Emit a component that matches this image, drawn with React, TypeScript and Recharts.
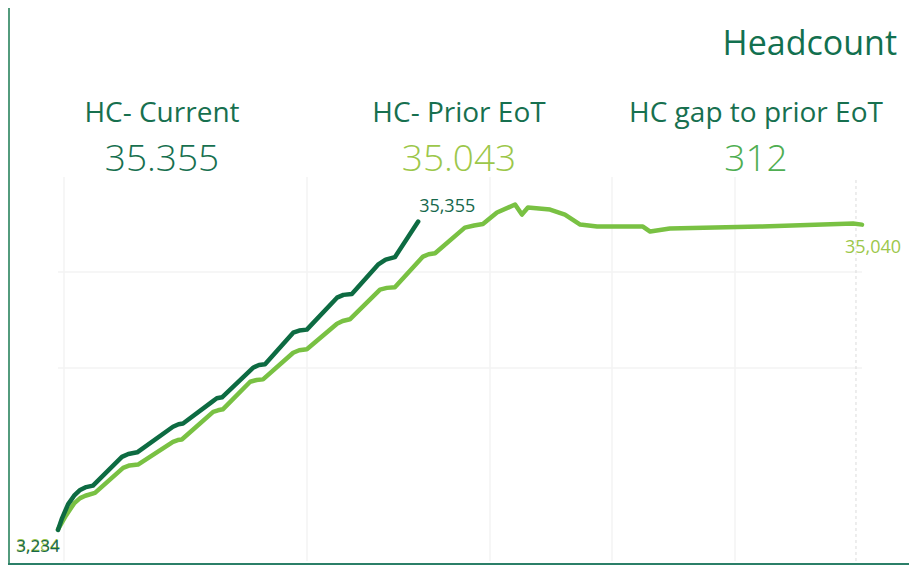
import { LineChart, Line, XAxis, YAxis, CartesianGrid, ReferenceLine } from 'recharts'

// x = period index across the year, y = headcount
const currentX = [0, 1, 2.5, 4, 5.5, 7, 8.7, 15.9, 17.5, 19.7, 28.6, 30, 31.1, 38.3, 39.5, 40.8, 48.5, 50, 51.5, 58.5, 60, 61.9, 69.4, 71, 73.1, 79.6, 81.5, 83.8, 89.6]
const currentHC = [3234, 4450, 5900, 6800, 7400, 7700, 7850, 10850, 11150, 11320, 13980, 14250, 14330, 16580, 16950, 17050, 20130, 20420, 20500, 23780, 24000, 24100, 27430, 27720, 27820, 30870, 31400, 31650, 35355]

const priorX = [0, 2, 4, 5.5, 6.8, 9.2, 16.2, 17.8, 19.9, 28.6, 29.8, 30.8, 38.6, 39.8, 41, 47.8, 49.4, 51, 58.5, 60, 61.9, 69.4, 70.8, 72.6, 80.1, 81.8, 83.8, 90.8, 92.2, 93.8, 101.2, 103.5, 105.7, 109.2, 113.7, 115.4, 116.9, 122.4, 126.1, 129.9, 134.1, 144.8, 145.5, 147.3, 152.2, 174.6, 197.8, 200]
const priorHC = [3284, 4750, 6000, 6550, 6800, 7090, 9700, 9950, 10050, 12410, 12600, 12650, 15540, 15700, 15800, 18670, 18850, 18920, 21690, 21950, 22050, 24720, 25000, 25180, 28270, 28450, 28520, 31710, 31950, 32060, 34730, 34950, 35100, 36300, 37130, 36090, 36820, 36610, 36090, 35050, 34840, 34840, 34840, 34320, 34630, 34840, 35150, 35040]

const kpiLabels = ['HC- Current', 'HC- Prior EoT', 'HC gap to prior EoT']
const kpiValues = ['35.355', '35.043', '312']
const kpiColors = ['#17704f', '#9cc74a', '#4fae52']

const gridX = [1.5, 62, 107.5, 137.5, 168.5]
const gridY = [20000, 30000]

const DARK = '#0d6b42'
const LIGHT = '#79c143'
const FONT = '"Open Sans", "Noto Sans", sans-serif'

const fmt = (v: number) => v.toLocaleString('en-US')

const currentData = currentX.map((x, i) => ({ x, hc: currentHC[i] }))
const priorData = priorX.map((x, i) => ({ x, hc: priorHC[i] }))

function EndLabel(props: any) {
  const { x, y, index, value, last, color, dx, dy, showStart } = props
  if (index === last) {
    return <text x={x + dx} y={y + dy} textAnchor="middle" fontSize={18} fill={color} fontFamily={FONT}>{fmt(value)}</text>
  }
  if (index === 0 && showStart) {
    return <text x={x - 20} y={y + 22} textAnchor="middle" fontSize={17} fill={color} fontFamily={FONT}>{fmt(value)}</text>
  }
  return null
}

export default function App() {
  const centers = [162, 459, 756]
  return (
    <div style={{ position: 'relative', width: 917, height: 567, margin: '-8px 0 0 -8px', background: 'white', overflow: 'hidden' }}>
      <LineChart width={917} height={567} margin={{ top: 177, right: 55, bottom: 6, left: 58 }}>
        <CartesianGrid stroke="#f3f3f3" strokeWidth={1.5} horizontal vertical horizontalPoints={[272, 368]} verticalPoints={[64, 307, 490, 612, 735]} />
        <XAxis type="number" dataKey="x" domain={[0, 200]} ticks={gridX} hide allowDuplicatedCategory={false} />
        <YAxis type="number" domain={[0, 40000]} ticks={gridY} hide />
        <ReferenceLine x={198.5} stroke="#dcdcdc" strokeDasharray="3 3" />
        <Line data={priorData} dataKey="hc" type="linear" stroke={LIGHT} strokeWidth={4.5} strokeLinejoin="round" strokeLinecap="round" dot={false} isAnimationActive={false}
          label={<EndLabel last={priorData.length - 1} color="#9cc74a" dx={11} dy={28} showStart />} />
        <Line data={currentData} dataKey="hc" type="linear" stroke={DARK} strokeWidth={4.5} strokeLinejoin="round" strokeLinecap="round" dot={false} isAnimationActive={false}
          label={<EndLabel last={currentData.length - 1} color="#17684c" dx={29} dy={-10} showStart />} />
      </LineChart>
      <svg width={917} height={567} style={{ position: 'absolute', left: 0, top: 0, pointerEvents: 'none' }}>
        <text x={897} y={55} textAnchor="end" fontSize={34} fill="#12704f" fontFamily={FONT}>Headcount</text>
        {kpiLabels.map((l, i) => (
          <text key={l} x={centers[i]} y={122} textAnchor="middle" fontSize={28} fill="#17704f" fontFamily={FONT}>{l}</text>
        ))}
        {kpiValues.map((v, i) => (
          <text key={v} x={centers[i]} y={171} textAnchor="middle" fontSize={37} fontWeight={300} fill={kpiColors[i]} fontFamily={FONT}>{v}</text>
        ))}
        <line x1={9} y1={4} x2={9} y2={564} stroke="#1a7a52" strokeWidth={1.5} />
        <line x1={8} y1={564} x2={917} y2={564} stroke="#2b7f68" strokeWidth={2} />
      </svg>
    </div>
  )
}
